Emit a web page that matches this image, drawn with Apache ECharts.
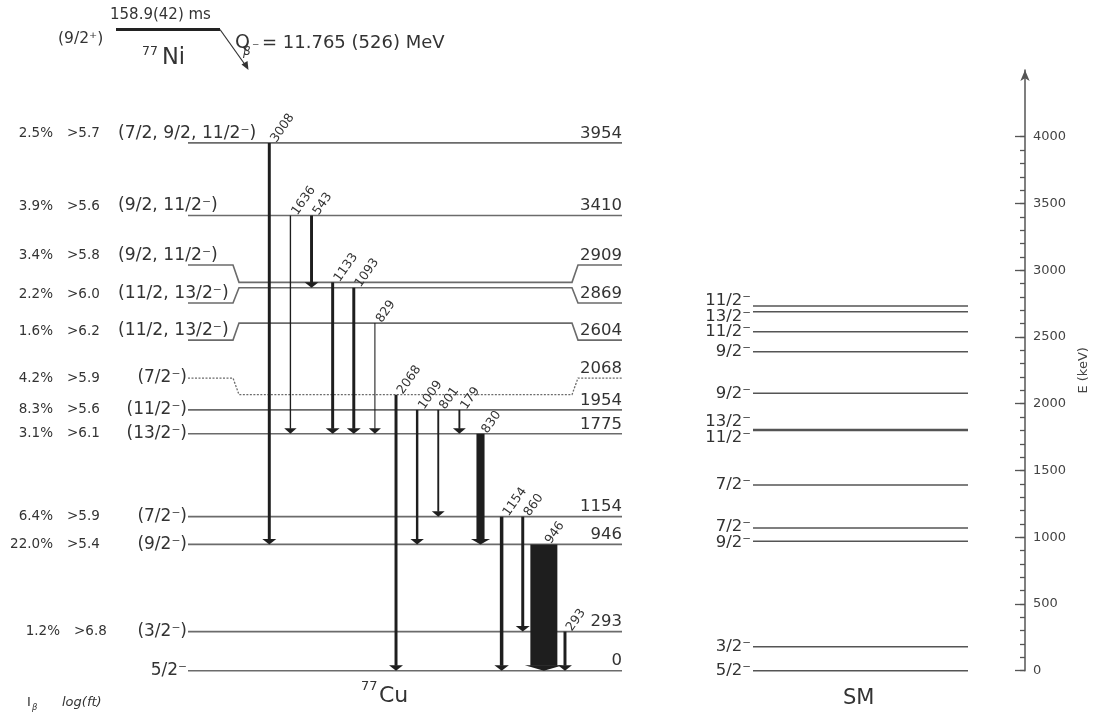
<!DOCTYPE html>
<html><head><meta charset="utf-8">
<script src="https://cdn.jsdelivr.net/npm/echarts@6/dist/echarts.min.js"></script>
<style>html,body{margin:0;padding:0;background:#fff}#c{width:1094px;height:715px}</style>
</head><body><div id="c"></div><script>
// ---------------- DATA ----------------
// 77Cu experimental levels (keV)
const levelEnergies = [0, 293, 946, 1154, 1775, 1954, 2068, 2604, 2869, 2909, 3410, 3954];
const levelSpins = ['5/2⁻', '(3/2⁻)', '(9/2⁻)', '(7/2⁻)', '(13/2⁻)', '(11/2⁻)', '(7/2⁻)',
  '(11/2, 13/2⁻)', '(11/2, 13/2⁻)', '(9/2, 11/2⁻)', '(9/2, 11/2⁻)', '(7/2, 9/2, 11/2⁻)'];
const levelTentative = [false, false, false, false, false, false, true, false, false, false, false, false];
const betaFeeding = ['', '1.2%', '22.0%', '6.4%', '3.1%', '8.3%', '4.2%', '1.6%', '2.2%', '3.4%', '3.9%', '2.5%'];
const logFt = ['', '>6.8', '>5.4', '>5.9', '>6.1', '>5.6', '>5.9', '>6.2', '>6.0', '>5.8', '>5.6', '>5.7'];
// gamma transitions (keV), initial/final level and relative intensity (946 = 100)
const gammaEnergies = [3008, 1636, 543, 1133, 1093, 829, 2068, 1009, 801, 179, 830, 1154, 860, 946, 293];
const gammaFrom     = [3954, 3410, 3410, 2909, 2869, 2604, 2068, 1954, 1954, 1954, 1775, 1154, 1154, 946, 293];
const gammaTo       = [946, 1775, 2869, 1775, 1775, 1775, 0, 946, 1154, 1775, 946, 0, 293, 0, 0];
const gammaIntensity = [11, 5, 11, 11, 11, 4, 11, 9, 7, 7, 30, 13, 11, 100, 11];
// shell-model levels (keV)
const smEnergies = [0, 180, 969, 1069, 1391, 1800, 1806, 2078, 2390, 2540, 2689, 2732];
const smSpins = ['5/2⁻', '3/2⁻', '9/2⁻', '7/2⁻', '7/2⁻', '11/2⁻', '13/2⁻', '9/2⁻', '9/2⁻', '11/2⁻', '13/2⁻', '11/2⁻'];
// energy axis ticks
const majorTicks = [0, 500, 1000, 1500, 2000, 2500, 3000, 3500, 4000];
const minorTicks = [];
for (let v = 0; v <= 4000; v += 100) minorTicks.push(v);
// parent nucleus
const parentSpin = '(9/2⁺)';
const parentHalfLife = '158.9(42) ms';
const parentMass = '77';
const parentSymbol = 'Ni';
const daughterMass = '77';
const daughterSymbol = 'Cu';
const qValueText = '= 11.765 (526) MeV';

// ---------------- LAYOUT ----------------
const F = 'DejaVu Sans';
const L = {
  expX0: 188, expX1: 622, bendL0: 233, bendL1: 239, bendR0: 572, bendR1: 578,
  spinMultiX: 118, spinSingleX: 187, ibX: 53, logftX: 67, rowShift: {293: 7},
  labelDy: {2909: -17.4, 2869: 15.3, 2604: 17, 2068: -16.6},
  gammaX0: 269.3, gammaStep: 21.12, widthPerI: 0.27,
  smX0: 753, smX1: 968, smLabelX: 751
};
const LEVEL_COLOR = '#6b6b6b', TEXT = '#333', ARROW = '#1e1e1e';
const GRID = {left: 0, right: 69, top: 70, bottom: 44.3, containLabel: false, outerBoundsMode: 'none'};

function txt(text, x, y, o) {
  o = o || {};
  return {
    type: 'text', x: x, y: y, rotation: o.rot || 0,
    style: {
      text: text, x: 0, y: 0, fill: o.fill || TEXT,
      font: (o.style || 'normal') + ' ' + (o.size || 16) + 'px "' + F + '"',
      textAlign: o.align || 'left', textVerticalAlign: o.va || 'middle',
      align: o.align || 'left', verticalAlign: o.va || 'middle'
    }
  };
}

function renderLevel(params, api) {
  const i = params.dataIndex;
  const E = levelEnergies[i];
  const px = v => api.coord([v, E])[0];
  const yT = api.coord([0, E])[1];
  const dy = L.labelDy[E] || 0;
  const yL = yT + dy;
  let pts;
  if (dy) {
    pts = [[px(L.expX0), yL], [px(L.bendL0), yL], [px(L.bendL1), yT], [px(L.bendR0), yT], [px(L.bendR1), yL], [px(L.expX1), yL]];
  } else {
    pts = [[px(L.expX0), yT], [px(L.expX1), yT]];
  }
  const children = [{
    type: 'polyline', shape: {points: pts},
    style: {stroke: LEVEL_COLOR, lineWidth: levelTentative[i] ? 1.3 : 1.6, fill: null,
      lineDash: levelTentative[i] ? [2, 1.5] : null}
  }];
  const multi = levelSpins[i].indexOf(',') >= 0;
  const textY = multi ? yL - 9 : yL;
  if (multi) children.push(txt(levelSpins[i], px(L.spinMultiX), yL - 1, {size: 17.2, va: 'bottom'}));
  else children.push(txt(levelSpins[i], px(L.spinSingleX), yL, {size: 17, align: 'right'}));
  children.push(txt(String(E), px(L.expX1), yL - 1, {size: 16.5, align: 'right', va: 'bottom'}));
  const sh = L.rowShift[E] || 0;
  if (betaFeeding[i]) children.push(txt(betaFeeding[i], px(L.ibX + sh), textY, {size: 13.5, align: 'right'}));
  if (logFt[i]) children.push(txt(logFt[i], px(L.logftX + sh), textY, {size: 13.5}));
  return {type: 'group', children: children};
}

function renderGamma(params, api) {
  const i = params.dataIndex;
  const xv = L.gammaX0 + i * L.gammaStep;
  const x = api.coord([xv, 0])[0];
  const yTop = api.coord([xv, gammaFrom[i]])[1];
  const yBot = api.coord([xv, gammaTo[i]])[1];
  const lw = Math.max(1, gammaIntensity[i] * L.widthPerI);
  const hw = lw + 11, hh = 5.5;
  return {type: 'group', children: [
    {type: 'rect', shape: {x: x - lw / 2, y: yTop, width: lw, height: yBot - hh - yTop + 0.5}, style: {fill: ARROW}},
    {type: 'polygon', shape: {points: [[x - hw / 2, yBot - hh], [x + hw / 2, yBot - hh], [x, yBot]]}, style: {fill: ARROW}},
    txt(String(gammaEnergies[i]), x + 9.5, yTop + 2, {size: 12.5, va: 'bottom', rot: 55 * Math.PI / 180, fill: '#333'})
  ]};
}

// SM label positions (spread labels of nearly degenerate levels)
function smLabelOffsets(api) {
  const ys = smEnergies.map(e => api.coord([0, e])[1]);
  const off = ys.map(() => 0);
  for (let i = 0; i < ys.length - 1; i++) {
    if (Math.abs(ys[i] - ys[i + 1]) < 16) {
      const mid = (ys[i] + ys[i + 1]) / 2;
      off[i] = mid + 8 - ys[i];
      off[i + 1] = mid - 8 - ys[i + 1];
      i++;
    }
  }
  return off;
}
function renderSM(params, api) {
  const i = params.dataIndex;
  const E = smEnergies[i];
  const y = api.coord([0, E])[1];
  const x0 = api.coord([L.smX0, E])[0], x1 = api.coord([L.smX1, E])[0];
  const off = smLabelOffsets(api)[i];
  return {type: 'group', children: [
    {type: 'line', shape: {x1: x0, y1: y, x2: x1, y2: y}, style: {stroke: '#555', lineWidth: 1.5}},
    txt(smSpins[i], api.coord([L.smLabelX, E])[0], y + off, {size: 16.5, align: 'right'})
  ]};
}

const chart = echarts.init(document.getElementById('c'), null, {renderer: 'canvas'});
chart.setOption({
  animation: false,
  backgroundColor: '#fff',
  grid: [Object.assign({}, GRID), Object.assign({}, GRID)],
  xAxis: [
    {type: 'value', gridIndex: 0, min: 0, max: 1025, show: false},
    {type: 'value', gridIndex: 1, min: 0, max: 1025, show: false}
  ],
  yAxis: [
    // main energy axis: line, major ticks, labels, name
    {type: 'value', gridIndex: 0, min: 0, max: 4500, position: 'right',
      axisLine: {show: true, onZero: false, symbol: ['none', 'arrow'], symbolSize: [7, 11], lineStyle: {color: '#555', width: 1.5}},
      axisTick: {show: true, inside: true, length: 10, customValues: majorTicks, lineStyle: {color: '#555', width: 1.3}},
      axisLabel: {show: true, customValues: majorTicks, color: '#444', fontSize: 13, fontFamily: F, margin: 8,
        formatter: v => String(v)},
      splitLine: {show: false},
      name: 'E (keV)', nameLocation: 'middle', nameGap: 52, nameRotate: 90,
      nameTextStyle: {color: '#444', fontSize: 13, fontFamily: F}},
    // minor ticks every 100 keV
    {type: 'value', gridIndex: 1, min: 0, max: 4500, position: 'right',
      axisLine: {show: false, onZero: false},
      axisTick: {show: true, inside: true, length: 5, customValues: minorTicks, lineStyle: {color: '#555', width: 1.3}},
      axisLabel: {show: false}, splitLine: {show: false}}
  ],
  series: [
    {type: 'custom', renderItem: renderLevel, data: levelEnergies.map(e => [0, e]), clip: false, silent: true},
    {type: 'custom', renderItem: renderGamma, data: gammaEnergies.map((g, i) => [0, gammaFrom[i]]), clip: false, silent: true, z: 3},
    {type: 'custom', renderItem: renderSM, data: smEnergies.map(e => [0, e]), clip: false, silent: true}
  ],
  graphic: [
    // parent level
    {type: 'text', left: 58, top: 31, style: {text: parentSpin, font: '15.5px "' + F + '"', fill: TEXT}},
    {type: 'line', shape: {x1: 116, y1: 29.5, x2: 220, y2: 29.5}, style: {stroke: '#222', lineWidth: 3}},
    {type: 'text', left: 110, top: 8, style: {text: parentHalfLife, font: '15px "' + F + '"', fill: TEXT}},
    {type: 'text', left: 142, top: 45, style: {text: parentMass, font: '12.5px "' + F + '"', fill: TEXT}},
    {type: 'text', left: 162, top: 47, style: {text: parentSymbol, font: '22.5px "' + F + '"', fill: TEXT}},
    {type: 'line', shape: {x1: 220, y1: 29.5, x2: 246, y2: 66}, style: {stroke: '#333', lineWidth: 1.2}},
    {type: 'polygon', shape: {points: [[248.5, 70], [241.5, 64.5], [247.5, 61]]}, style: {fill: '#333'}},
    {type: 'text', left: 235, top: 34, style: {text: 'Q', font: '19px "' + F + '"', fill: TEXT}},
    {type: 'text', left: 243, top: 46, style: {text: 'β', font: 'italic 12px "' + F + '"', fill: TEXT}},
    {type: 'text', left: 252, top: 41, style: {text: '⁻', font: '14px "' + F + '"', fill: TEXT}},
    {type: 'text', left: 262, top: 34, style: {text: qValueText, font: '18px "' + F + '"', fill: TEXT}},
    // bottom labels
    {type: 'text', left: 361, top: 680, style: {text: daughterMass, font: '13px "' + F + '"', fill: TEXT}},
    {type: 'text', left: 379, top: 685, style: {text: daughterSymbol, font: '22px "' + F + '"', fill: TEXT}},
    {type: 'text', left: 843, top: 688, style: {text: 'SM', font: '21px "' + F + '"', fill: TEXT}},
    {type: 'text', left: 27, top: 696, style: {text: 'I', font: '13px "' + F + '"', fill: TEXT}},
    {type: 'text', left: 32, top: 703, style: {text: 'β', font: 'italic 8.5px "' + F + '"', fill: TEXT}},
    {type: 'text', left: 62, top: 696, style: {text: 'log(ft)', font: 'italic 13px "' + F + '"', fill: TEXT}}
  ]
});
</script></body></html>
